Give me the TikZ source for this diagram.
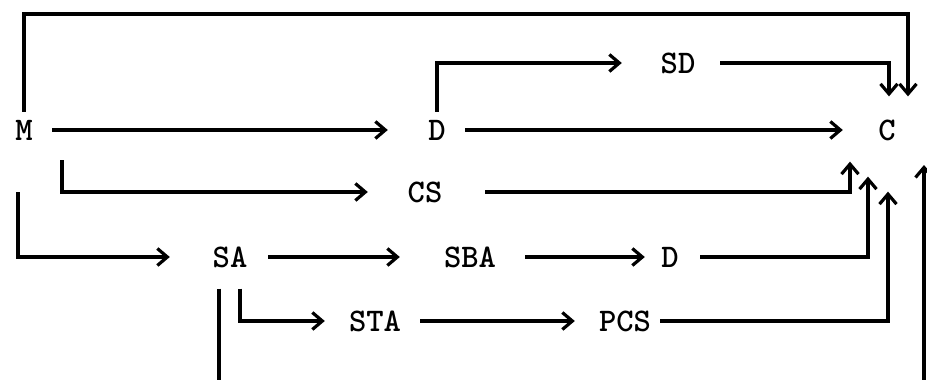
\documentclass[tikz,border=0pt]{standalone}
\usetikzlibrary{arrows.meta}
\begin{document}
\begin{tikzpicture}[x=1pt,y=-1pt,
  lbl/.style={inner sep=0pt,minimum height=18pt,font=\fontsize{33}{33}\selectfont\ttfamily\bfseries},
  w1/.style={lbl,minimum width=19pt},
  w2/.style={lbl,minimum width=38pt},
  w3/.style={lbl,minimum width=57pt},
  conn/.style={line width=3.4pt},
  arr/.style={conn,-{Straight Barb[length=10pt,width=17pt,line width=3.2pt]}}]
\fill[white] (0,0) rectangle (927,380);
\useasboundingbox (0,0) rectangle (927,380);
% nodes
\node[w1] (M) at (24,130) {M};
\node[w1] (D1) at (437,130) {D};
\node[w1] (C) at (887,130) {C};
\node[w2] (SD) at (678,63) {SD};
\node[w2] (CS) at (425,192) {CS};
\node[w2] (SA) at (230,257) {SA};
\node[w3] (SBA) at (470,257) {SBA};
\node[w1] (D2) at (670,257) {D};
\node[w3] (STA) at (375,321) {STA};
\node[w3] (PCS) at (625,321) {PCS};
\coordinate (tr) at (908,14);
\coordinate (mc) at (62,160);
\coordinate (ms) at (18,192);
\coordinate (sb) at (219,380);
\coordinate (rb) at (924,380);
\coordinate (rt) at (924,165);
% connectors
\draw[arr,shorten <=18.5pt,shorten >=39.5pt] (M) -- (D1);
\draw[arr,shorten <=18.5pt,shorten >=34.5pt] (D1) -- (C);
\draw[arr,shorten <=8pt,shorten >=37pt] (D1.north) |- (SD.west);
\draw[arr,shorten <=23pt,shorten >=23pt] (SD.east) -| ([xshift=2pt]C.north);
\draw[arr,shorten <=8pt,shorten >=23pt] (M.north) |- (tr) -- (tr |- C.north);
\draw[arr,shorten >=38pt] (mc) |- (CS.west);
\draw[arr,shorten <=41pt,shorten >=21pt] (CS.east) -| ([xshift=-37pt]C.south);
\draw[arr,shorten >=41pt] (ms) |- (SA.west);
\draw[arr,shorten <=19pt,shorten >=41.5pt] (SA) -- (SBA);
\draw[arr,shorten <=26.5pt,shorten >=15.5pt] (SBA) -- (D2);
\draw[arr,shorten <=20.5pt,shorten >=36pt] (D2.east) -| ([xshift=-19pt]C.south);
\draw[conn,shorten <=21pt] ([xshift=-11pt]SA.south) -- (sb);
\draw[arr,shorten <=21pt,shorten >=21.5pt] ([xshift=10pt]SA.south) |- (STA.west);
\draw[arr,shorten <=16.5pt,shorten >=21.5pt] (STA) -- (PCS);
\draw[arr,shorten <=6.5pt,shorten >=51pt] (PCS.east) -| ([xshift=1pt]C.south);
\draw[arr] (rb) -- (rt);
\end{tikzpicture}
\end{document}
